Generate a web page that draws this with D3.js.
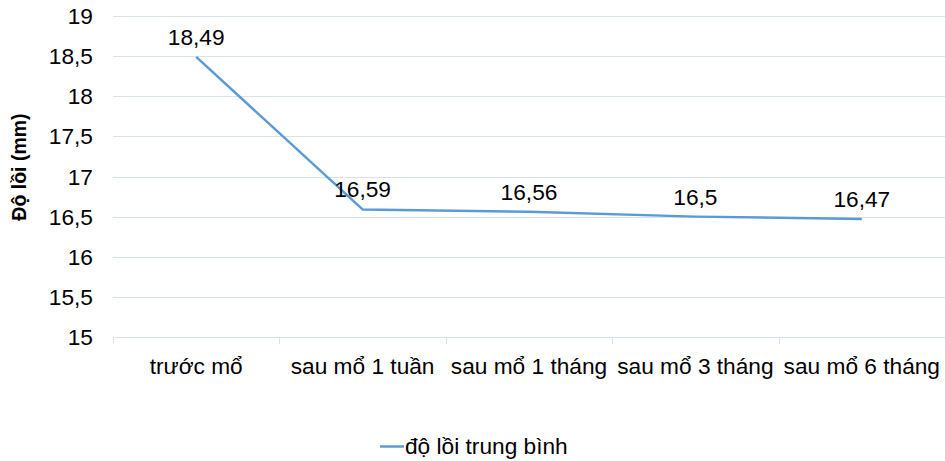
<!DOCTYPE html>
<html><head><meta charset="utf-8">
<script src="https://cdn.jsdelivr.net/npm/d3@7"></script>
<style>body{margin:0;background:#fff}svg{display:block;font-family:"Liberation Sans",Arial,sans-serif}</style>
</head><body><svg id="c" width="945" height="461"></svg>
<script>
const categories = ["trước mổ","sau mổ 1 tuần","sau mổ 1 tháng","sau mổ 3 tháng","sau mổ 6 tháng"];
const values = [18.49, 16.59, 16.56, 16.5, 16.47];
const valueLabels = ["18,49","16,59","16,56","16,5","16,47"];
const yTicks = [15,15.5,16,16.5,17,17.5,18,18.5,19];
const seriesName = "độ lồi trung bình";
const yTitle = "Độ lồi (mm)";

(function(){
const svg = d3.select("#c");
const pL = 113, pR = 945, pT = 16, pB = 337;
const fs = 22.7;
const x = d3.scaleBand().domain(categories).range([pL, pR]);
const y = d3.scaleLinear().domain([15,19]).range([pB, pT]);
const fmt = d => String(d).replace(".", ",");

// gridlines
svg.append("g").selectAll("line").data(yTicks).join("line")
  .attr("x1", pL).attr("x2", pR)
  .attr("y1", d => Math.round(y(d))+0.5).attr("y2", d => Math.round(y(d))+0.5)
  .attr("stroke", "#d9e1ec").attr("stroke-width", 1);

// y tick labels
svg.append("g").selectAll("text").data(yTicks).join("text")
  .attr("x", 93).attr("y", d => y(d) + 8)
  .attr("text-anchor", "end").attr("font-size", fs).attr("fill", "#000")
  .text(fmt);

// x axis ticks (between categories)
const bounds = categories.map(c => x(c)).concat([pR]);
svg.append("g").selectAll("line").data(bounds).join("line")
  .attr("x1", d => Math.round(d)+0.5).attr("x2", d => Math.round(d)+0.5)
  .attr("y1", pB).attr("y2", pB+7)
  .attr("stroke", "#d9e1ec").attr("stroke-width", 1);

// category labels
svg.append("g").selectAll("text").data(categories).join("text")
  .attr("x", d => x(d) + x.bandwidth()/2).attr("y", 374)
  .attr("text-anchor", "middle").attr("font-size", fs).attr("fill", "#000")
  .text(d => d);

// line
const line = d3.line().x((d,i) => x(categories[i]) + x.bandwidth()/2).y(d => y(d));
svg.append("path").datum(values).attr("d", line)
  .attr("fill", "none").attr("stroke", "#5b9bd5").attr("stroke-width", 2.5)
  .attr("stroke-linejoin", "round");

// data labels
svg.append("g").selectAll("text").data(values).join("text")
  .attr("x", (d,i) => x(categories[i]) + x.bandwidth()/2)
  .attr("y", d => y(d) - 12)
  .attr("text-anchor", "middle").attr("font-size", fs).attr("fill", "#000")
  .text((d,i) => valueLabels[i]);

// y title
svg.append("text")
  .attr("transform", "translate(26,167) rotate(-90)")
  .attr("text-anchor", "middle").attr("font-size", 19.5).attr("font-weight", "bold")
  .text(yTitle);

// legend
svg.append("line").attr("x1", 380).attr("x2", 404).attr("y1", 446.5).attr("y2", 446.5)
  .attr("stroke", "#5b9bd5").attr("stroke-width", 2.5);
svg.append("text").attr("x", 405).attr("y", 454).attr("font-size", fs).text(seriesName);
})();
</script></body></html>
